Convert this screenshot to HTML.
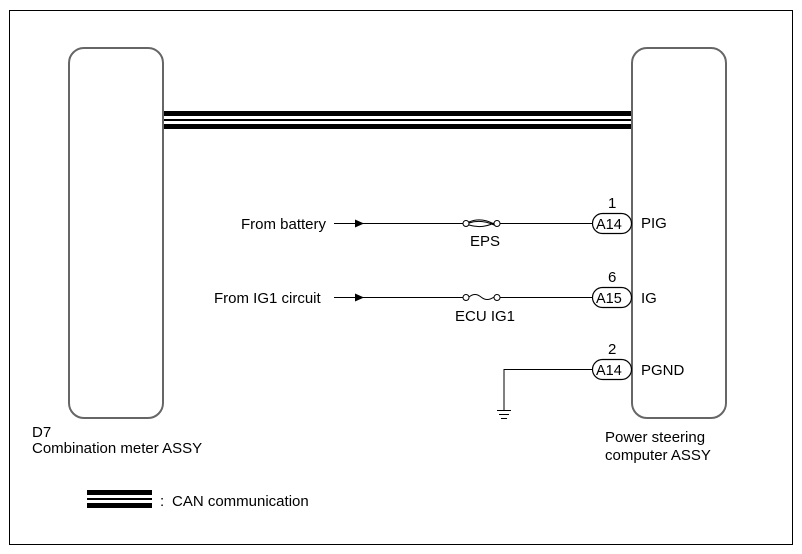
<!DOCTYPE html>
<html><head><style>body{margin:0;background:#fff}svg{display:block}text{font-family:"Liberation Sans",sans-serif;fill:#000}</style></head>
<body>
<svg width="802" height="554" viewBox="0 0 802 554" xmlns="http://www.w3.org/2000/svg">
<rect x="9.5" y="10.5" width="783" height="534" fill="none" stroke="#000" stroke-width="1"/>
<rect x="69" y="48" width="94" height="370" rx="15" fill="none" stroke="#666" stroke-width="2"/>
<rect x="632" y="48" width="94" height="370" rx="15" fill="none" stroke="#666" stroke-width="2"/>
<rect x="164" y="111" width="467" height="5" fill="#000"/>
<rect x="164" y="119" width="467" height="2" fill="#000"/>
<rect x="164" y="124" width="467" height="5" fill="#000"/>
<g font-size="15">
<text x="241" y="229">From battery</text>
<text x="214" y="303">From IG1 circuit</text>
<text x="470" y="246">EPS</text>
<text x="455" y="321">ECU IG1</text>
<text x="608" y="208">1</text>
<text x="608" y="282">6</text>
<text x="608" y="354">2</text>
<text x="641" y="228">PIG</text>
<text x="641" y="303">IG</text>
<text x="641" y="375">PGND</text>
<text x="32" y="437">D7</text>
<text x="32" y="453">Combination meter ASSY</text>
<text x="605" y="442">Power steering</text>
<text x="605" y="460">computer ASSY</text>
<text x="160" y="506">:</text>
<text x="172" y="506">CAN communication</text>
</g>
<g stroke="#000" stroke-width="1" fill="none">
<line x1="334" y1="223.5" x2="463" y2="223.5"/>
<line x1="500" y1="223.5" x2="592" y2="223.5"/>
<line x1="334" y1="297.5" x2="463" y2="297.5"/>
<line x1="500" y1="297.5" x2="592" y2="297.5"/>
<circle cx="466" cy="223.5" r="3" fill="#fff"/>
<circle cx="497" cy="223.5" r="3" fill="#fff"/>
<circle cx="466" cy="297.5" r="3" fill="#fff"/>
<circle cx="497" cy="297.5" r="3" fill="#fff"/>
<path d="M469 222 Q481 217 494 224 M469 223 Q481 219 494 225 M469 225 Q482 229 494 223"/>
<path d="M469 297 Q475 292 481 297 Q487 302 494 297"/>
<path d="M592 369.5 H504 V410"/>
<line x1="497" y1="410.5" x2="511" y2="410.5"/>
<line x1="499" y1="414.5" x2="509" y2="414.5"/>
<line x1="501" y1="418.5" x2="507" y2="418.5"/>
<rect x="592.5" y="213.5" width="39" height="20" rx="10" fill="#fff" stroke-width="1.2"/>
<rect x="592.5" y="287.5" width="39" height="20" rx="10" fill="#fff" stroke-width="1.2"/>
<rect x="592.5" y="359.5" width="39" height="20" rx="10" fill="#fff" stroke-width="1.2"/>
</g>
<path d="M355 219.5 L364 223.5 L355 227.5Z" fill="#000"/>
<path d="M355 293.5 L364 297.5 L355 301.5Z" fill="#000"/>
<g font-size="14.5">
<text x="596" y="229">A14</text>
<text x="596" y="303">A15</text>
<text x="596" y="375">A14</text>
</g>
<rect x="87" y="490" width="65" height="5" fill="#000"/>
<rect x="87" y="498" width="65" height="2" fill="#000"/>
<rect x="87" y="503" width="65" height="5" fill="#000"/>
</svg>
</body></html>
